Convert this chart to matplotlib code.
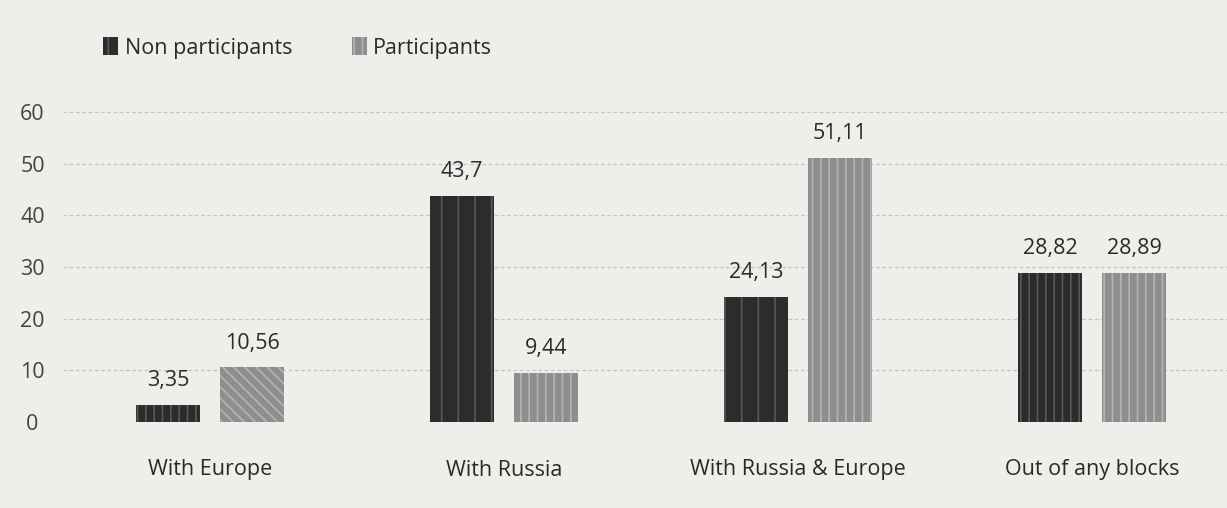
import matplotlib
matplotlib.use("Agg")
import matplotlib.pyplot as plt
import numpy as np
from matplotlib.patches import Patch

categories = ["With Europe", "With Russia", "With Russia & Europe", "Out of any blocks"]
non_participants = [3.35, 43.7, 24.13, 28.82]
participants = [10.56, 9.44, 51.11, 28.89]
non_labels = ["3,35", "43,7", "24,13", "28,82"]
part_labels = ["10,56", "9,44", "51,11", "28,89"]
yticks = [0, 10, 20, 30, 40, 50, 60]

plt.rcParams['font.family'] = ['Open Sans', 'DejaVu Sans']
plt.rcParams['hatch.linewidth'] = 1.2

bg = "#efeeeb"
fig = plt.figure(figsize=(12.27, 5.08), dpi=100, facecolor=bg)
ax = fig.add_axes([63/1227, 1 - 422/508, 1176/1227, 310/508])
ax.set_facecolor(bg)

x = np.arange(len(categories))
w = 0.22
off = 0.143
fs = 15.5
hatch_dark = ['||', '|', '|', '||']
hatch_light = ['\\\\\\', '||', '||', '||']
for i in range(len(categories)):
    ax.bar(x[i] - off, non_participants[i], w, color="#2c2c2c", edgecolor="#585858",
           linewidth=0, hatch=hatch_dark[i])
    ax.bar(x[i] + off, participants[i], w, color="#8e8e8e", edgecolor="#b4b4b4",
           linewidth=0, hatch=hatch_light[i])
    ax.annotate(non_labels[i], (x[i] - off, non_participants[i]), xytext=(0, 10),
                textcoords="offset points", ha="center", va="bottom", fontsize=fs, color="#2a2a2a")
    ax.annotate(part_labels[i], (x[i] + off, participants[i]), xytext=(0, 10),
                textcoords="offset points", ha="center", va="bottom", fontsize=fs, color="#2a2a2a")

ax.set_xlim(-0.5, len(categories) - 0.5)
ax.set_ylim(0, 60)
ax.set_yticks(yticks)
ax.set_yticklabels([str(t) for t in yticks], fontsize=fs, color="#444444")
for lbl in ax.get_yticklabels():
    lbl.set_horizontalalignment('center')
ax.set_xticks(x)
ax.set_xticklabels(categories, fontsize=fs, color="#2a2a2a")
ax.tick_params(axis='x', length=0, pad=27)
ax.tick_params(axis='y', length=0, pad=22)
ax.grid(axis='y', color="#c4c4c4", linestyle=(0, (3, 2)), linewidth=0.9)
ax.set_axisbelow(True)
for s in ax.spines.values():
    s.set_visible(False)

handles = [Patch(facecolor="#2c2c2c", edgecolor="#585858", hatch='|', linewidth=0),
           Patch(facecolor="#8e8e8e", edgecolor="#b4b4b4", hatch='||', linewidth=0)]
fig.legend(handles, ["Non participants", "Participants"], loc="center left",
           bbox_to_anchor=(84/1227, 1 - 48/508), ncol=2, frameon=False, fontsize=fs,
           handlelength=0.7, handleheight=0.9, handletextpad=0.3, columnspacing=2.75,
           labelcolor="#2a2a2a")

fig.savefig("out.png", dpi=100, facecolor=bg)
